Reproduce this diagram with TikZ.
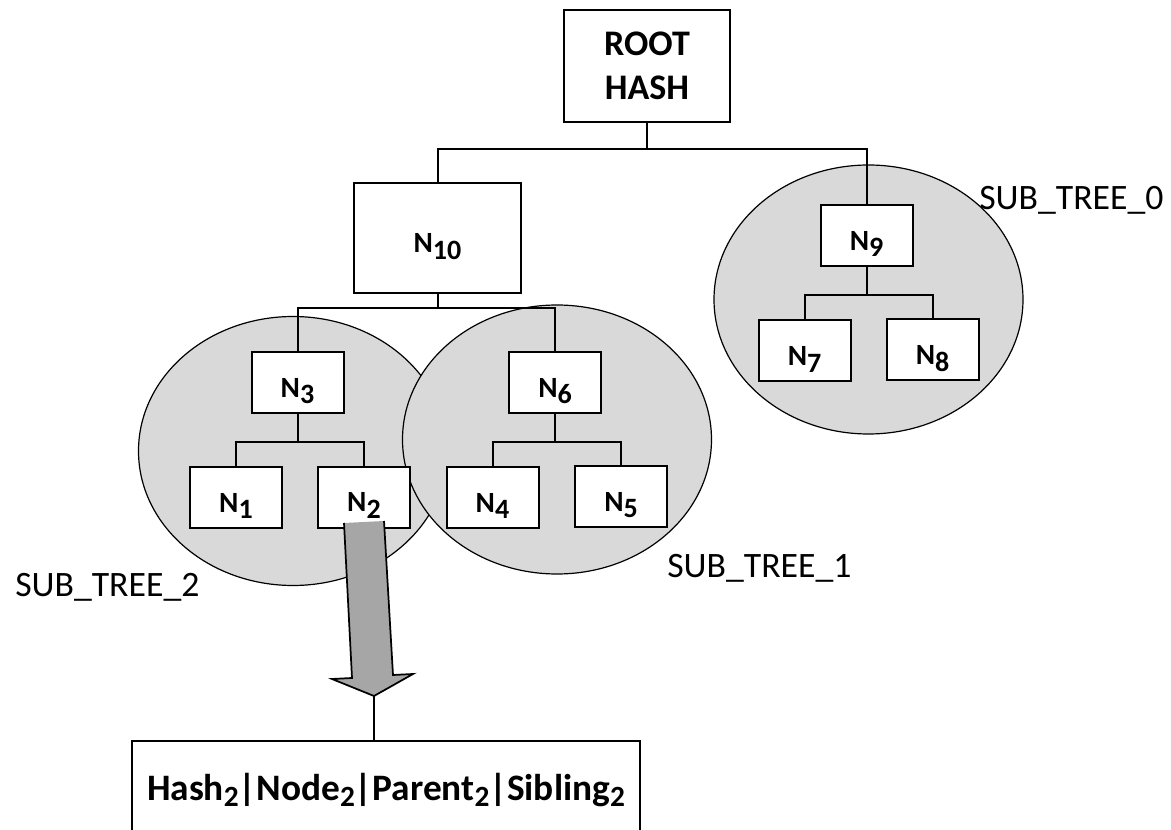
\documentclass[tikz,border=0pt]{standalone}
\usepackage{fontspec}
\setmainfont{Carlito}
\usetikzlibrary{shapes.geometric}
\definecolor{ellgray}{HTML}{D9D9D9}
\definecolor{arrgray}{HTML}{A6A6A6}
\newcommand\nlab[1]{\raisebox{-10.9pt}[0pt][0pt]{N\raisebox{-4.9pt}{\fontsize{21}{21}\selectfont #1}}}
\newcommand\bsub{\raisebox{-4.5pt}{\fontsize{22}{22}\selectfont 2}}
\tikzset{
  ell/.style={ellipse, draw, line width=0.9pt, fill=ellgray, minimum width=231.75pt, minimum height=201.75pt, inner sep=0pt},
  tbox/.style={draw, line width=1.5pt, fill=white, inner sep=0pt, font=\fontsize{22}{22}\selectfont\bfseries},
  sbox/.style={tbox, minimum width=69pt, minimum height=45.75pt},
  conn/.style={line width=1.5pt},
  stlab/.style={anchor=base west, inner sep=0pt, font=\fontsize{26.8}{26.8}\selectfont},
}
\begin{document}
\begin{tikzpicture}[x=0.75pt,y=-0.75pt]
\useasboundingbox (0,0) rectangle (1171,830);
\clip (0,0) rectangle (1171,830);
% sub-tree ellipses
\node[ell] (st0) at (868.5,299.5) {};
\node[ell] (st2) at (293,451) {};
\node[ell] (st1) at (557,439.5) {};
% boxes
\node[tbox, minimum width=124.5pt, minimum height=84pt, align=center, font=\fontsize{27}{33}\selectfont\bfseries] (root) at (647,66) {ROOT\\HASH};
\node[tbox, minimum width=125.25pt, minimum height=82.5pt] (n10) at (437.5,238) {\nlab{10}};
\node[sbox] (n9) at (866.5,235.5) {\nlab{9}};
\node[sbox] (n7) at (804.5,351) {\nlab{7}};
\node[sbox] (n8) at (932.5,350) {\nlab{8}};
\node[sbox] (n3) at (297.5,382.5) {\nlab{3}};
\node[sbox] (n1) at (236,497.5) {\nlab{1}};
\node[sbox] (n2) at (364,497) {\nlab{2}};
\node[sbox] (n6) at (555,382.5) {\nlab{6}};
\node[sbox] (n4) at (492.5,497.5) {\nlab{4}};
\node[sbox] (n5) at (621,496.5) {\nlab{5}};
% connectors
\draw[conn] (root.south) -- ++(0,26) -| (n10.north);
\draw[conn] (root.south) ++(0,26) -| (n9.north);
\draw[conn] (n10.south) -- ++(0,14) -| (n3.north);
\draw[conn] (n10.south) ++(0,14) -| (n6.north);
\draw[conn] (n9.south) -- ++(0,28) -| (n7.north);
\draw[conn] (n9.south) ++(0,28) -| (n8.north);
\draw[conn] (n3.south) -- ++(0,28) -| (n1.north);
\draw[conn] (n3.south) ++(0,28) -| (n2.north);
\draw[conn] (n6.south) -- ++(0,28) -| (n4.north);
\draw[conn] (n6.south) ++(0,28) -| (n5.north);
% labels
\node[stlab] (l0) at (979,210) {SUB\_TREE\_0};
\node[stlab] (l1) at (667,577) {SUB\_TREE\_1};
\node[stlab] (l2) at (15,596) {SUB\_TREE\_2};
% big arrow
\coordinate (tip) at (374,696);
\fill[arrgray] (344,523) -- (384,521) -- (393,675) -- (413,674) -- (tip) -- (332,679) -- (352,678) -- cycle;
\draw[line width=1.3pt, line join=miter] (384,521) -- (393,675) -- (413,674) -- (tip) -- (332,679) -- (352,678) -- (344,523);
% record box
\node[tbox, minimum width=381pt, minimum height=89.25pt, font=\fontsize{28}{28}\selectfont\bfseries] (rec) at (386,800.5) {\smash{Hash\bsub|Node\bsub|Parent\bsub|Sibling\bsub}};
\draw[conn] (tip) -- (tip |- rec.north);
\end{tikzpicture}
\end{document}
